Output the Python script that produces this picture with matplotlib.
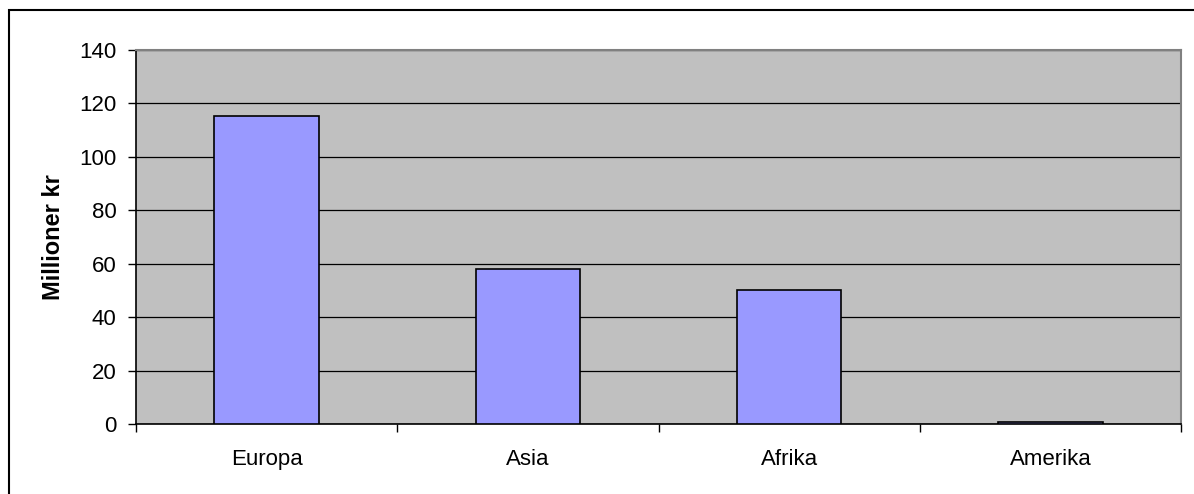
import numpy as np
import matplotlib
matplotlib.use('Agg')
import matplotlib.pyplot as plt
from matplotlib.patches import Rectangle

plt.rcParams['font.family'] = ['Liberation Sans', 'DejaVu Sans']

# data
regions = ['Europa', 'Asia', 'Afrika', 'Amerika']
values = [115.2, 58.0, 50.2, 0.7]
y_ticks = [0, 20, 40, 60, 80, 100, 120, 140]

bar_color = '#9999FF'
plot_bg = '#C0C0C0'

fig = plt.figure(figsize=(11.94, 4.94), dpi=100)

# outer chart frame (Excel style), top-left corner visible only
fig.patches.append(Rectangle((9/1194, -0.1), 1.2, 1 - 10/494 + 0.1,
                             transform=fig.transFigure, fill=False,
                             edgecolor='black', linewidth=1.5, zorder=0))

ax = fig.add_axes([136/1194, 70/494, 1045/1194, 374/494])
ax.set_facecolor(plot_bg)

x = np.arange(len(regions))
ax.bar(x, values, width=0.4, color=bar_color, edgecolor='black', linewidth=1.2, zorder=3)

ax.set_xlim(-0.5, len(regions) - 0.5)
ax.set_ylim(0, 140)
ax.set_yticks(y_ticks)
ax.yaxis.grid(True, color='black', linewidth=0.9, zorder=1)
ax.set_axisbelow(True)

# category boundaries as ticks, labels centred on bars
ax.set_xticks(np.arange(-0.5, len(regions), 1.0))
ax.set_xticklabels([])
ax.set_xticks(x, minor=True)
ax.set_xticklabels(regions, minor=True)
ax.tick_params(axis='x', which='major', length=6, width=1, direction='out')
ax.tick_params(axis='x', which='minor', length=0, pad=18, labelsize=16)
ax.tick_params(axis='y', length=6, width=1, direction='out', pad=8, labelsize=16)

for s in ['top', 'right']:
    ax.spines[s].set_color('#808080')
    ax.spines[s].set_linewidth(1.5)
for s in ['left', 'bottom']:
    ax.spines[s].set_color('black')
    ax.spines[s].set_linewidth(1.2)

ax.set_ylabel('Millioner kr', fontsize=17, fontweight='bold', labelpad=10)

fig.savefig('out.png', dpi=100)
